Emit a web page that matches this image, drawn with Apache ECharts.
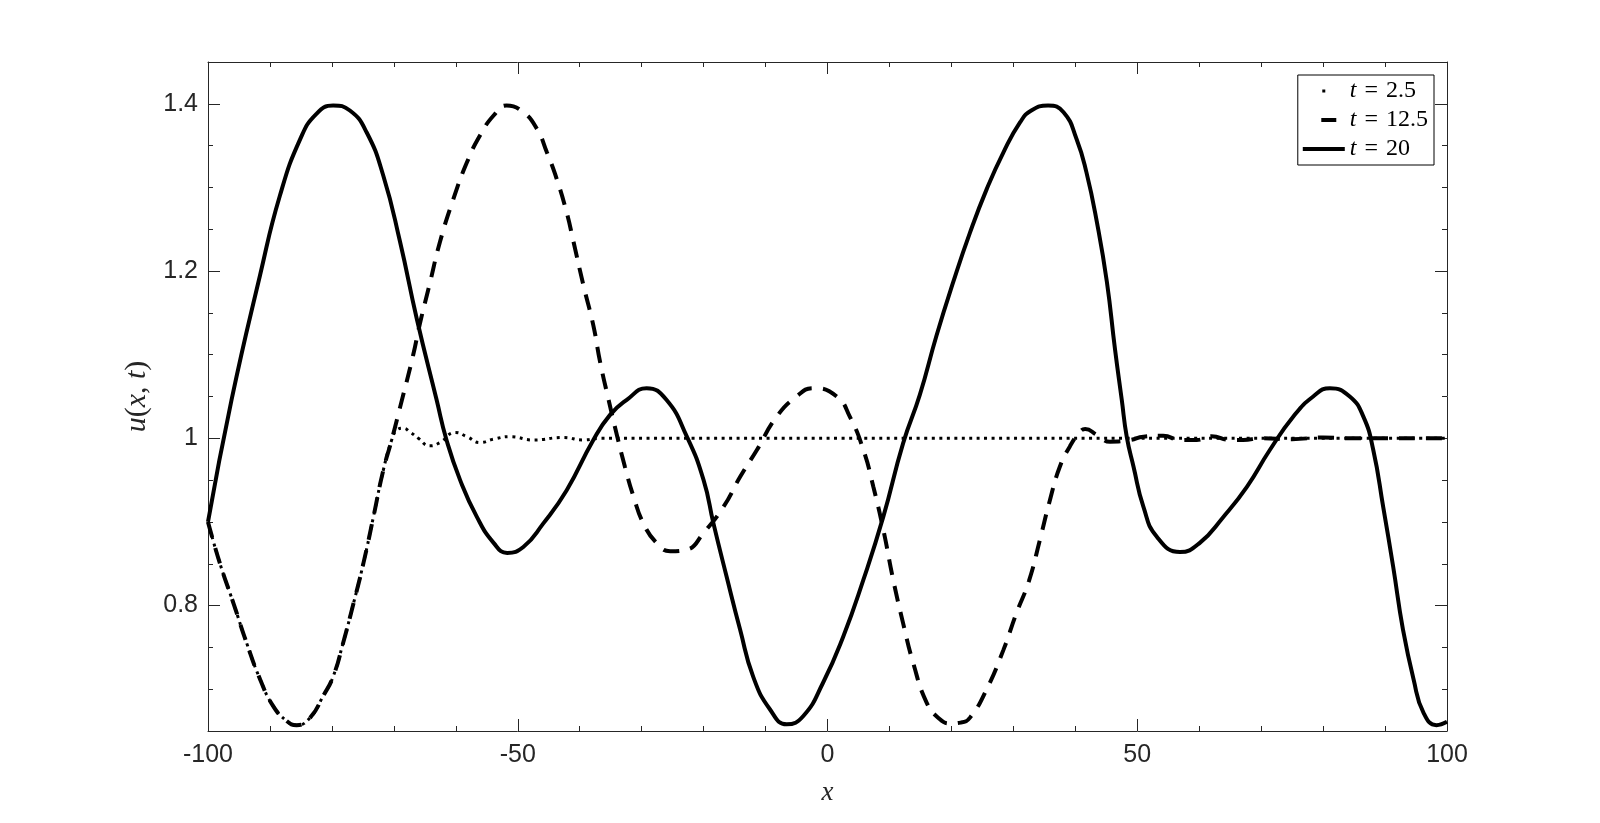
<!DOCTYPE html>
<html>
<head>
<meta charset="utf-8">
<script src="https://cdn.jsdelivr.net/npm/echarts@6/dist/echarts.min.js"></script>
<style>
  html, body { margin: 0; padding: 0; background: #fff; }
  #chart { width: 1600px; height: 823px; }
</style>
</head>
<body>
<div id="chart"></div>
<script>
// t = 20 (solid)
const solidX = [-100, -96.2, -91.6, -88.4, -85.1, -82.5, -79.8, -77.1, -74.4, -71.7, -69.0, -66.3, -63.1, -61.5, -59.3,
  -56.6, -53.9, -51.7, -49.1, -45.9, -42.1, -37.8, -35.1, -32.4, -29.2, -26.0, -22.7, -20.0, -18.4, -16.3, -14.1,
  -12.0, -9.3, -6.6, -3.9, -0.7, 2.55, 5.8, 9.0, 12.2, 14.9, 17.6, 20.3, 23.0, 25.7, 28.4, 31.1, 32.9, 35.6, 38.1,
  40.2, 41.8, 43.5, 45.1, 46.4, 47.5, 48.3, 49.4, 51.0, 53.1, 56.9, 60.1, 63.9, 67.7, 71.4, 75.2, 78.4, 81.1, 84.3,
  86.5, 88.1, 89.7, 91.3, 92.9, 94.6, 96.2, 98.3, 100]
const solidY = [0.900, 1.046, 1.195, 1.290, 1.358, 1.388, 1.398, 1.392, 1.366, 1.314, 1.235, 1.143, 1.046, 0.998, 0.950,
  0.906, 0.875, 0.863, 0.870, 0.898, 0.938, 0.998, 1.028, 1.046, 1.060, 1.046, 1.002, 0.950, 0.898, 0.835, 0.771,
  0.715, 0.676, 0.658, 0.668, 0.708, 0.763, 0.831, 0.906, 0.994, 1.052, 1.123, 1.187, 1.246, 1.298, 1.342, 1.378, 1.392, 1.398, 1.390,
  1.358, 1.318, 1.258, 1.187, 1.107, 1.046, 1.002, 0.966, 0.918, 0.883, 0.864, 0.875, 0.906, 0.942, 0.986, 1.026, 1.050, 1.060, 1.050,
  1.026, 0.986, 0.918, 0.847, 0.771, 0.712, 0.672, 0.657, 0.661]

// t = 12.5 (dashed)
const dashX = [-100, -98.1, -95.9, -93.75, -91.6, -89.5, -87.3, -85.7, -83.5, -81.4, -79.8, -78.2, -76.5, -74.9, -73.3,
  -71.7, -70.35, -69.0, -66.9, -65.8, -64.2, -62.55, -60.4, -58.2, -56.1, -53.9, -51.8, -49.1, -46.9, -45.3, -43.7,
  -42.1, -41.0, -39.4, -37.8, -36.7, -35.4, -34.0, -32.7, -31.3, -29.7, -27.6, -25.4, -22.7, -20.0, -16.8, -14.1,
  -11.4, -8.2, -5.0, -2.3, 1.5, 3.6, 5.8, 7.4, 9.0, 10.6, 12.2, 13.85, 16.0, 18.0, 19.8, 21.5, 23.0, 25.7, 28.4, 30.5,
  32.5, 34.3, 35.9, 37.5, 39.1, 40.8, 41.6, 43.5, 45.6, 48.8, 51.0, 54.2, 56.9, 59.6, 62.0, 65.0, 67.1, 70, 75, 80,
  85, 90, 95, 100]
const dashY = [0.900, 0.851, 0.803, 0.755, 0.712, 0.680, 0.662, 0.657, 0.666, 0.692, 0.715, 0.755, 0.803, 0.851, 0.906,
  0.962, 0.998, 1.037, 1.099, 1.137, 1.185, 1.235, 1.286, 1.330, 1.362, 1.386, 1.398, 1.390, 1.370, 1.342, 1.310,
  1.270, 1.235, 1.183, 1.135, 1.091, 1.048, 1.004, 0.966, 0.930, 0.898, 0.875, 0.865, 0.867, 0.887, 0.918, 0.954,
  0.986, 1.026, 1.050, 1.060, 1.050, 1.026, 0.986, 0.942, 0.891, 0.831, 0.779, 0.731, 0.684, 0.665, 0.659, 0.660, 0.666, 0.700, 0.747, 0.791,
  0.829, 0.879, 0.926, 0.966, 0.990, 1.008, 1.011, 1.004, 0.996, 0.998, 1.002, 1.003, 0.998, 0.998, 1.0025, 0.998, 0.998, 1.000, 0.999, 1.001,
  1.000, 1.000, 1.000, 1.000]

// t = 2.5 (dotted)
const dotX = [-100, -98.1, -95.9, -93.75, -91.6, -89.5, -87.3, -85.7, -83.5, -81.4, -79.8, -78.2, -76.5, -74.9, -73.3,
  -71.7, -70.35, -69.5, -68.5, -67.3, -66.05, -64.2, -62.55, -60.1, -58.2, -56.1, -53.9, -51.25, -47.5, -42.65, -39.4,
  -36.7, 100]
const dotY = [0.900, 0.851, 0.803, 0.755, 0.712, 0.680, 0.662, 0.657, 0.666, 0.692, 0.715, 0.755, 0.803, 0.851, 0.906,
  0.962, 0.998, 1.010, 1.012, 1.007, 1.000, 0.991, 0.995, 1.007, 1.002, 0.995, 0.999, 1.002, 0.998, 1.001, 0.998,
  1.000, 1.000]

const yLabels = [0.8, 1, 1.2, 1.4]
const legendNames = ['t = 2.5', 't = 12.5', 't = 20']

const zip = (xs, ys) => xs.map((x, i) => [x, ys[i]])

const axisColor = '#262626'
const tickFont = { color: axisColor, fontSize: 25, fontFamily: 'Liberation Sans, Arial, sans-serif' }
const serif = 'Liberation Serif, DejaVu Serif, serif'

function yAxisBase(pos, major, labels) {
  return {
    type: 'value', position: pos, min: 0.65, max: 1.45, interval: 0.05,
    axisLine: { show: !major, onZero: false, lineStyle: { color: axisColor, width: 1 } },
    axisTick: major
      ? { show: true, inside: true, length: 12, customValues: yLabels, lineStyle: { color: axisColor } }
      : { show: true, inside: true, length: 5, lineStyle: { color: axisColor } },
    axisLabel: labels
      ? { show: true, margin: 10, customValues: yLabels, formatter: v => (Math.abs(v - 1) < 1e-9 ? '1' : v.toFixed(1)), ...tickFont }
      : { show: false },
    splitLine: { show: false },
  }
}

function xAxisBase(pos, labels) {
  return {
    type: 'value', position: pos, min: -100, max: 100, interval: 50,
    axisLine: { show: true, onZero: false, lineStyle: { color: axisColor, width: 1 } },
    axisTick: { show: true, inside: true, length: 12, lineStyle: { color: axisColor } },
    minorTick: { show: true, splitNumber: 5, length: 5, lineStyle: { color: axisColor } },
    axisLabel: labels ? { show: true, margin: 12, ...tickFont } : { show: false },
    splitLine: { show: false },
    minorSplitLine: { show: false },
  }
}

const chart = echarts.init(document.getElementById('chart'))

const xBottom = xAxisBase('bottom', true)
xBottom.name = '{i|x}'
xBottom.nameLocation = 'middle'
xBottom.nameGap = 48
xBottom.nameTextStyle = { rich: { i: { fontFamily: serif, fontStyle: 'italic', fontSize: 27, color: axisColor } } }

const yLeft = yAxisBase('left', false, true)
yLeft.name = '{i|u}({i|x}, {i|t})'
yLeft.nameLocation = 'middle'
yLeft.nameGap = 46
yLeft.nameRotate = 90
yLeft.nameTextStyle = {
  fontFamily: serif, fontSize: 30, color: axisColor,
  rich: { i: { fontFamily: serif, fontStyle: 'italic', fontSize: 30, color: axisColor } },
}

const lineCommon = { symbol: 'none', smooth: 0.5, clip: true, itemStyle: { color: '#000' } }

chart.setOption({
  backgroundColor: '#fff',
  animation: false,
  grid: { left: 208, right: 153, top: 62, bottom: 92 },
  xAxis: [xBottom, xAxisBase('top', false)],
  yAxis: [yLeft, yAxisBase('left', true, false), yAxisBase('right', false, false), yAxisBase('right', true, false)],
  legend: {
    orient: 'vertical', right: 166, top: 75,
    padding: [4, 6, 4, 3],
    itemWidth: 42, itemHeight: 14, itemGap: 5,
    backgroundColor: '#fff', borderColor: '#000', borderWidth: 1,
    itemStyle: { color: 'rgba(0,0,0,0)', borderWidth: 0, opacity: 0 },
    formatter: name => '{i|t}\u2004=\u2004' + name.split('= ')[1],
    textStyle: {
      fontFamily: serif, fontSize: 24, color: '#000',
      rich: { i: { fontFamily: serif, fontStyle: 'italic', fontSize: 24, color: '#000' } },
    },
    data: [
      { name: legendNames[0], lineStyle: { color: '#000', width: 3, type: [3, 100], dashOffset: 83.5 } },
      { name: legendNames[1], lineStyle: { color: '#000', width: 4, type: [15, 19] } },
      { name: legendNames[2], lineStyle: { color: '#000', width: 4, type: 'solid' } },
    ],
  },
  series: [
    {
      ...lineCommon, name: legendNames[0], type: 'line', data: zip(dotX, dotY),
      lineStyle: { color: '#000', width: 3, type: [3, 4.5], cap: 'butt' },
    },
    {
      ...lineCommon, name: legendNames[1], type: 'line', data: zip(dashX, dashY),
      lineStyle: { color: '#000', width: 4, type: [16, 11], cap: 'butt' },
    },
    {
      ...lineCommon, name: legendNames[2], type: 'line', data: zip(solidX, solidY),
      lineStyle: { color: '#000', width: 4, type: 'solid' },
    },
  ],
})
</script>
</body>
</html>
